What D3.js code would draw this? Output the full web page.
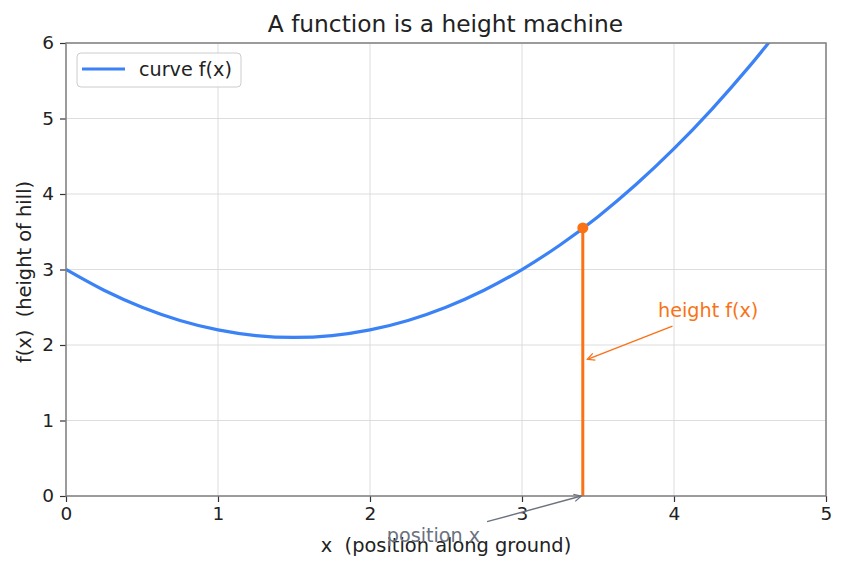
<!DOCTYPE html>
<html>
<head>
<meta charset="utf-8">
<script src="https://cdn.jsdelivr.net/npm/d3@7"></script>
<style>
  body { margin: 0; background: #fff; }
  text { font-family: "DejaVu Sans", sans-serif; white-space: pre; }
</style>
</head>
<body>
<div id="chart"></div>
<script>
var width = 846;
var height = 569;

// curve
var curveX = [0, 0.25, 0.5, 0.75, 1, 1.25, 1.5, 1.75, 2, 2.25, 2.5, 2.75, 3, 3.25, 3.5, 3.75, 4, 4.25, 4.5, 4.75];
var curveY = [3.0, 2.725, 2.5, 2.325, 2.2, 2.125, 2.1, 2.125, 2.2, 2.325, 2.5, 2.725, 3.0, 3.325, 3.7, 4.125, 4.6, 5.125, 5.7, 6.325];
var pointX = 3.4;
var pointY = 3.55;
var xTicks = [0, 1, 2, 3, 4, 5];
var yTicks = [0, 1, 2, 3, 4, 5, 6];

var blue = "#3b82f6", orange = "#f97316", grey = "#6b7280";

var margin = {left: 66, right: 20, top: 43, bottom: 73};
var svg = d3.select("#chart").append("svg")
    .attr("width", width)
    .attr("height", height);

var x = d3.scaleLinear().domain([0, 5]).range([margin.left, width - margin.right]);
var y = d3.scaleLinear().domain([0, 6]).range([height - margin.bottom, margin.top]);

svg.append("defs").append("clipPath").attr("id", "clip")
  .append("rect")
    .attr("x", x(0)).attr("y", y(6))
    .attr("width", x(5) - x(0)).attr("height", y(0) - y(6));

// grid
var grid = svg.append("g");
grid.selectAll(".gx").data(xTicks).enter().append("line")
    .attr("x1", d => x(d)).attr("x2", d => x(d))
    .attr("y1", y(0)).attr("y2", y(6))
    .attr("stroke", "#d4d4d8").attr("stroke-width", 0.8);
grid.selectAll(".gy").data(yTicks).enter().append("line")
    .attr("x1", x(0)).attr("x2", x(5))
    .attr("y1", d => y(d)).attr("y2", d => y(d))
    .attr("stroke", "#d4d4d8").attr("stroke-width", 0.8);

// curve
var line = d3.line()
    .x((d, i) => x(curveX[i]))
    .y(d => y(d))
    .curve(d3.curveCatmullRom);
svg.append("path")
    .datum(curveY)
    .attr("clip-path", "url(#clip)")
    .attr("d", line)
    .attr("fill", "none")
    .attr("stroke", blue)
    .attr("stroke-width", 3.2);

// height stick + point
svg.append("line")
    .attr("x1", x(pointX)).attr("x2", x(pointX))
    .attr("y1", y(0)).attr("y2", y(pointY))
    .attr("stroke", orange).attr("stroke-width", 3);
svg.append("circle")
    .attr("cx", x(pointX)).attr("cy", y(pointY)).attr("r", 5.5)
    .attr("fill", orange);

// axes
var xAxis = svg.append("g")
    .attr("transform", "translate(0," + y(0) + ")")
    .call(d3.axisBottom(x).tickValues(xTicks).tickFormat(d3.format("d")).tickSize(6).tickPadding(5));
var yAxis = svg.append("g")
    .attr("transform", "translate(" + x(0) + ",0)")
    .call(d3.axisLeft(y).tickValues(yTicks).tickFormat(d3.format("d")).tickSize(6).tickPadding(6));
[xAxis, yAxis].forEach(function(a) {
    a.select(".domain").remove();
    a.selectAll(".tick line").attr("stroke", "#333").attr("stroke-width", 1.2);
    a.selectAll(".tick text").attr("fill", "#222").style("font-size", "18.5px").style("font-family", "DejaVu Sans");
});

// frame
svg.append("rect")
    .attr("x", x(0)).attr("y", y(6))
    .attr("width", x(5) - x(0)).attr("height", y(0) - y(6))
    .attr("fill", "none").attr("stroke", "#808080").attr("stroke-width", 1.5);

// annotations
var defs = svg.select("defs");
function marker(id, color) {
    defs.append("marker").attr("id", id)
        .attr("viewBox", "0 0 10 10").attr("refX", 9).attr("refY", 5)
        .attr("markerWidth", 9).attr("markerHeight", 9).attr("orient", "auto")
        .attr("markerUnits", "userSpaceOnUse")
      .append("path").attr("d", "M1,1 L9,5 L1,9")
        .attr("fill", "none").attr("stroke", color).attr("stroke-width", 1.4);
}
marker("arrO", orange);
marker("arrG", grey);

svg.append("line")
    .attr("x1", x(3.99)).attr("y1", y(2.25))
    .attr("x2", x(3.43)).attr("y2", y(1.81))
    .attr("stroke", orange).attr("stroke-width", 1.4)
    .attr("marker-end", "url(#arrO)");
svg.append("text")
    .attr("x", 658).attr("y", 317)
    .attr("fill", orange).style("font-size", "19.2px")
    .text("height f(x)");

svg.append("line")
    .attr("x1", x(2.77)).attr("y1", y(-0.34))
    .attr("x2", x(3.39)).attr("y2", y(0))
    .attr("stroke", grey).attr("stroke-width", 1.4)
    .attr("marker-end", "url(#arrG)");

// axis labels
svg.append("text")
    .attr("x", (x(0) + x(5)) / 2).attr("y", 552)
    .attr("text-anchor", "middle").attr("fill", "#222").style("font-size", "19.4px")
    .text("x  (position along ground)");
svg.append("text")
    .attr("transform", "translate(31,272) rotate(-90)")
    .attr("text-anchor", "middle").attr("fill", "#222").style("font-size", "19.4px")
    .text("f(x)  (height of hill)");

svg.append("text")
    .attr("x", 433.5).attr("y", 542)
    .attr("text-anchor", "middle").attr("fill", grey).style("font-size", "19.2px")
    .text("position x");

// title
svg.append("text")
    .attr("x", 445.5).attr("y", 32)
    .attr("text-anchor", "middle").attr("fill", "#222").style("font-size", "23.3px")
    .text("A function is a height machine");

// legend
var lg = svg.append("g").attr("transform", "translate(77,53)");
lg.append("rect")
    .attr("width", 164).attr("height", 34).attr("rx", 4)
    .attr("fill", "#fff").attr("fill-opacity", 0.85)
    .attr("stroke", "#cccccc").attr("stroke-width", 1);
lg.append("line")
    .attr("x1", 5).attr("x2", 48).attr("y1", 16).attr("y2", 16)
    .attr("stroke", blue).attr("stroke-width", 3.2);
lg.append("text")
    .attr("x", 62).attr("y", 23)
    .attr("fill", "#222").style("font-size", "19.2px")
    .text("curve f(x)");
</script>
</body>
</html>
